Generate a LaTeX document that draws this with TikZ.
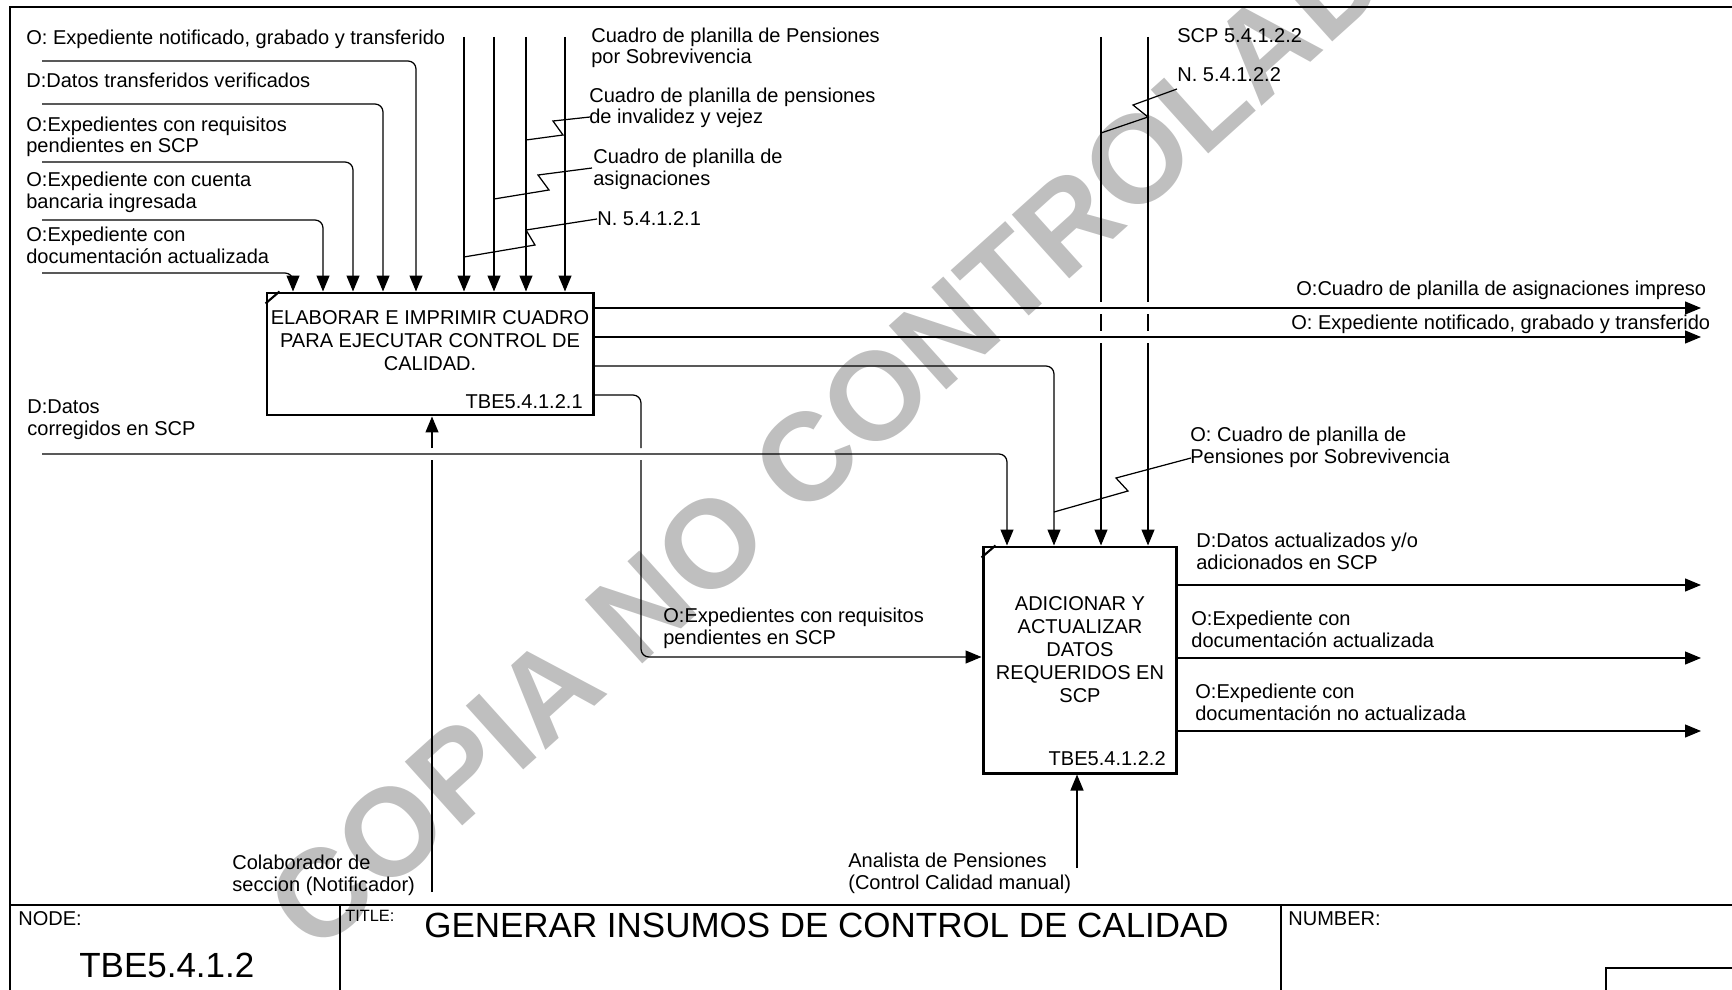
\documentclass[tikz,border=0pt]{standalone}
\usepackage{fontspec}
\setmainfont{Liberation Sans}
\usetikzlibrary{arrows.meta}

\newcommand{\lblfont}{\fontsize{11.4pt}{12.4pt}\selectfont}
\newcommand{\boxfont}{\fontsize{11.4pt}{13pt}\selectfont}
\newcommand{\bigfont}{\fontsize{19.9pt}{22pt}\selectfont}
\newcommand{\tagfont}{\fontsize{9.3pt}{10pt}\selectfont}
\newcommand{\wmfont}{\fontsize{71pt}{80pt}\selectfont\bfseries}

\tikzset{
  lbl/.style={inner sep=0pt, anchor=base west, align=left, font=\lblfont},
  boxtxt/.style={inner sep=0pt, anchor=base, align=center, font=\boxfont},
  actbox/.style={draw, line width=1.7pt, inner sep=0pt},
  flow/.style={line width=0.7pt, rounded corners=1.6mm, -{Triangle[length=3.2mm,width=2.6mm]}},
  wire/.style={line width=0.7pt},
  sheet/.style={line width=1.1pt},
  tbline/.style={line width=0.9pt},
}

\begin{document}
\begin{tikzpicture}[x=0.2mm, y=-0.2mm]

    % Page size
    \useasboundingbox (0,0) rectangle (1732,990);
    \clip (0,0) rectangle (1732,990);

    % Watermark
    \node[rotate=42, text=black!25, font=\wmfont, inner sep=0pt] (wm) at (860,410) {COPIA NO CONTROLADA};

    % Sheet frame and title block
    \draw[sheet] (10,1000) -- (10,7) -- (1745,7);
    \draw[tbline] (10,905) -- (1745,905);
    \draw[tbline] (340,905) -- (340,1000);
    \draw[tbline] (1281,905) -- (1281,1000);
    \draw[tbline] (1606,1000) |- (1745,968);

    \node[lbl] (nodelbl) at (18,925) {NODE:};
    \node[lbl, font=\bigfont] (nodeid) at (79,977) {TBE5.4.1.2};
    \node[lbl, font=\tagfont] (titlelbl) at (345,921) {TITLE:};
    \node[lbl, font=\bigfont] (title) at (424,937) {GENERAR INSUMOS DE CONTROL DE CALIDAD};
    \node[lbl] (numlbl) at (1288,925) {NUMBER:};

    % Activity boxes
    \node[actbox, minimum width=65.2mm, minimum height=24.4mm] (elab) at (430,354) {};
    \node[actbox, minimum width=38.6mm, minimum height=45.2mm] (adic) at (1079.5,660) {};

    % Corner ticks
    \draw[line width=1.2pt] ([shift={(0,12)}]elab.north west) -- ([shift={(14,0)}]elab.north west);
    \draw[line width=1.2pt] ([shift={(0,12)}]adic.north west) -- ([shift={(14,0)}]adic.north west);

    % Box texts (y is the last baseline)
    \node[boxtxt] (elabtxt) at (430,370) {ELABORAR E IMPRIMIR CUADRO\\PARA EJECUTAR CONTROL DE\\CALIDAD.};
    \node[lbl, anchor=base east] (elabid) at (583,408) {TBE5.4.1.2.1};
    \node[boxtxt] (adictxt) at (1080,702) {ADICIONAR Y\\ACTUALIZAR\\DATOS\\REQUERIDOS EN\\SCP};
    \node[lbl, anchor=base east] (adicid) at (1166,765) {TBE5.4.1.2.2};

    % Inputs from the left into the first box
    \coordinate (in1) at (42,61);
    \coordinate (in2) at (42,104);
    \coordinate (in3) at (42,162);
    \coordinate (in4) at (42,220);
    \coordinate (in5) at (42,273);
    \draw[flow] (in1) -| (416,0 |- elab.north);
    \draw[flow] (in2) -| (383,0 |- elab.north);
    \draw[flow] (in3) -| (353,0 |- elab.north);
    \draw[flow] (in4) -| (323,0 |- elab.north);
    \draw[flow] (in5) -| (293,0 |- elab.north);

    \node[lbl] (lin1) at (26,45) {O: Expediente notificado, grabado y transferido};
    \node[lbl] (lin2) at (26,88) {D:Datos transferidos verificados};
    \node[lbl] (lin3) at (26,153) {O:Expedientes con requisitos\\pendientes en SCP};
    \node[lbl] (lin4) at (26,208) {O:Expediente con cuenta\\bancaria ingresada};
    \node[lbl] (lin5) at (26,263) {O:Expediente con\\documentación actualizada};

    % Controls from the top into the first box
    \coordinate (ct1) at (464,37);
    \coordinate (ct2) at (494,37);
    \coordinate (ct3) at (526,37);
    \coordinate (ct4) at (565,37);
    \draw[flow] (ct1) -- (ct1 |- elab.north);
    \draw[flow] (ct2) -- (ct2 |- elab.north);
    \draw[flow] (ct3) -- (ct3 |- elab.north);
    \draw[flow] (ct4) -- (ct4 |- elab.north);

    \node[lbl] (lct4) at (591,64) {Cuadro de planilla de Pensiones\\por Sobrevivencia};
    \node[lbl] (lct3) at (589,124) {Cuadro de planilla de pensiones\\de invalidez y vejez};
    \node[lbl] (lct2) at (593,185) {Cuadro de planilla de\\asignaciones};
    \node[lbl] (lct1) at (597,225) {N. 5.4.1.2.1};

    % Squiggles to the control lines
    \draw[wire] (590,117) -- (553,121) -- (563,135) -- (ct3 |- 0,140);
    \draw[wire] (592,168) -- (538,175) -- (549,190) -- (ct2 |- 0,199);
    \draw[wire] (597,219) -- (526,230) -- (535,245) -- (ct1 |- 0,257);

    % Outputs of the first box
    \coordinate (out1) at (1701,308);
    \coordinate (out2) at (1701,337);
    \draw[flow] (elab.east |- out1) -- (out1);
    \draw[flow] (elab.east |- out2) -- (out2);
    \node[lbl] (lout1) at (1296,296) {O:Cuadro de planilla de asignaciones impreso};
    \node[lbl] (lout2) at (1291,329) {O: Expediente notificado, grabado y transferido};

    % First box to second box
    \draw[flow] (elab.east |- 0,366) -| (1054,0 |- adic.north);
    \draw[wire, rounded corners=1.6mm] (elab.east |- 0,395) -| (641,448);
    \draw[flow] (641,460) |- (adic.west |- 0,657);
    \node[lbl] (lreq) at (663,644) {O:Expedientes con requisitos\\pendientes en SCP};

    % Corrected data input
    \coordinate (dc) at (42,454);
    \draw[flow] (dc) -| (1007,0 |- adic.north);
    \node[lbl] (ldc) at (27,435) {D:Datos\\corregidos en SCP};

    % Controls from the top into the second box
    \coordinate (cb1) at (1101,37);
    \coordinate (cb2) at (1148,37);
    \draw[wire] (cb1) -- (1101,302) (1101,314) -- (1101,331);
    \draw[flow] (1101,343) -- (cb1 |- adic.north);
    \draw[wire] (cb2) -- (1148,302) (1148,314) -- (1148,331);
    \draw[flow] (1148,343) -- (cb2 |- adic.north);

    \node[lbl] (lcb2) at (1177,43) {SCP 5.4.1.2.2};
    \node[lbl] (lcb1) at (1177,82) {N. 5.4.1.2.2};
    \draw[wire] (1177,89) -- (1133,105) -- (1148,117) -- (cb1 |- 0,133);

    \node[lbl] (lpen) at (1190,463) {O: Cuadro de planilla de\\Pensiones por Sobrevivencia};
    \draw[wire] (1191,458) -- (1116,478) -- (1128,491) -- (1054,512);

    % Outputs of the second box
    \coordinate (out3) at (1701,585);
    \coordinate (out4) at (1701,658);
    \coordinate (out5) at (1701,731);
    \draw[flow] (adic.east |- out3) -- (out3);
    \draw[flow] (adic.east |- out4) -- (out4);
    \draw[flow] (adic.east |- out5) -- (out5);
    \node[lbl] (lout3) at (1196,569) {D:Datos actualizados y/o\\adicionados en SCP};
    \node[lbl] (lout4) at (1191,647) {O:Expediente con\\documentación actualizada};
    \node[lbl] (lout5) at (1195,720) {O:Expediente con\\documentación no actualizada};

    % Mechanisms
    \coordinate (mc1) at (432,892);
    \coordinate (mc2) at (1077,868);
    \draw[wire] (mc1) -- (432,460);
    \draw[flow] (432,448) -- (mc1 |- elab.south);
    \draw[flow] (mc2) -- (mc2 |- adic.south);
    \node[lbl] (lmc1) at (232,891) {Colaborador de\\seccion (Notificador)};
    \node[lbl] (lmc2) at (848,889) {Analista de Pensiones\\(Control Calidad manual)};

\end{tikzpicture}
\end{document}
